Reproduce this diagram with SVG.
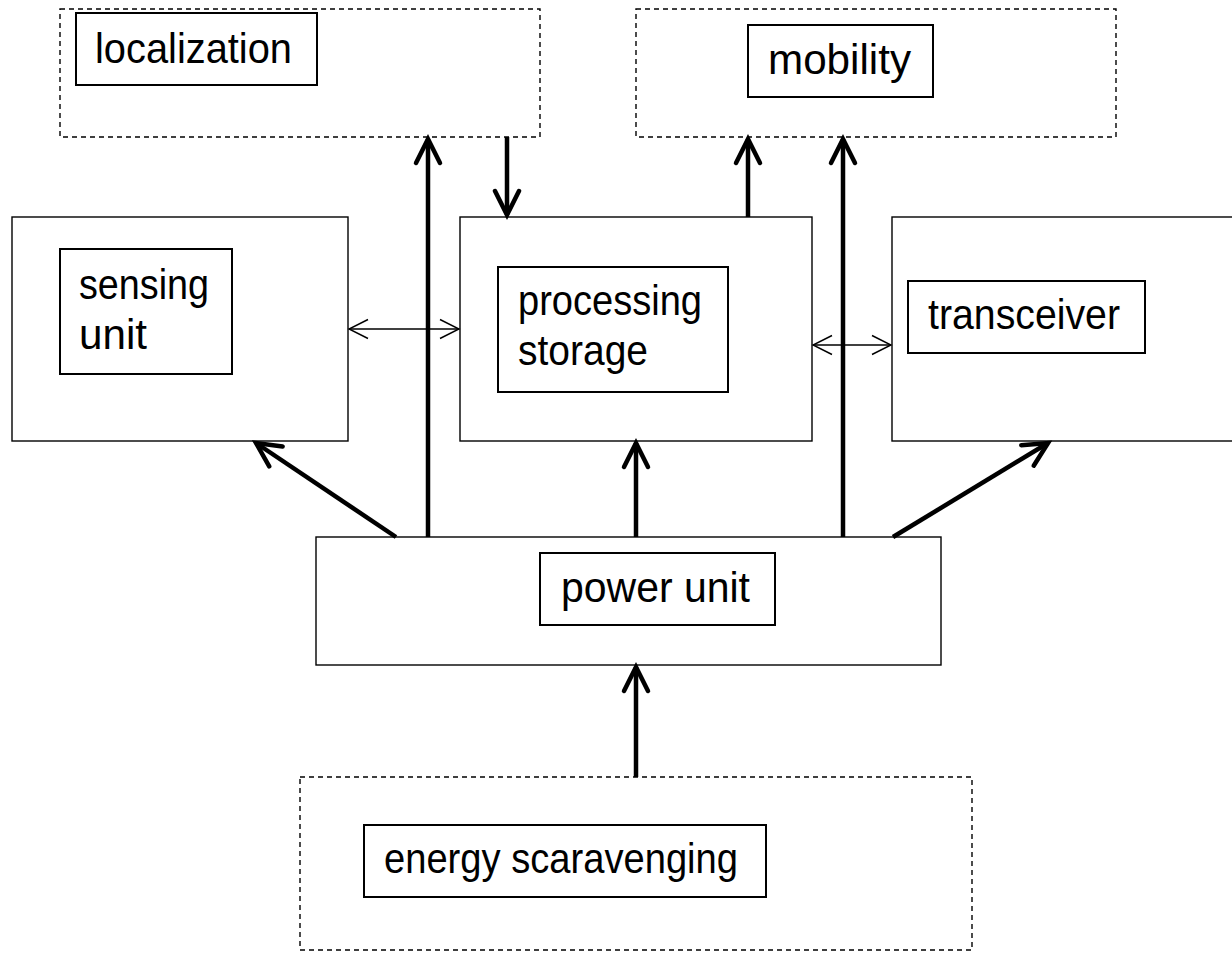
<svg xmlns="http://www.w3.org/2000/svg" width="1232" height="953" viewBox="0 0 1232 953">
  <style>
    .outer { fill: #ffffff; stroke: #000000; stroke-width: 1.4; }
    .dashed { fill: #ffffff; stroke: #000000; stroke-width: 1.4; stroke-dasharray: 5 4; }
    .inner { fill: #ffffff; stroke: #000000; stroke-width: 2; }
    .lbl { font-family: "Liberation Sans", Arial, sans-serif; font-size: 43px; fill: #000000; }
    .thick { stroke: #000000; stroke-width: 4.5; fill: none; marker-end: url(#bigArrow); }
    .thin { stroke: #000000; stroke-width: 1.4; fill: none; marker-start: url(#smallArrowStart); marker-end: url(#smallArrow); }
  </style>
  <defs>
    <marker id="bigArrow" markerUnits="userSpaceOnUse" markerWidth="40" markerHeight="40" viewBox="-30 -20 40 40" refX="0" refY="0" orient="auto">
      <path d="M -24 -12 L 0 0 L -24 12" fill="none" stroke="#000000" stroke-width="4.5" stroke-linecap="round" stroke-linejoin="miter"/>
    </marker>
    <marker id="smallArrow" markerUnits="userSpaceOnUse" markerWidth="30" markerHeight="30" viewBox="-25 -15 30 30" refX="0" refY="0" orient="auto">
      <path d="M -19 -9.5 L 0 0 L -19 9.5" fill="none" stroke="#000000" stroke-width="1.4"/>
    </marker>
    <marker id="smallArrowStart" markerUnits="userSpaceOnUse" markerWidth="30" markerHeight="30" viewBox="-5 -15 30 30" refX="0" refY="0" orient="auto">
      <path d="M 19 -9.5 L 0 0 L 19 9.5" fill="none" stroke="#000000" stroke-width="1.4"/>
    </marker>
  </defs>
  <rect width="1232" height="953" fill="#ffffff"/>

  <g id="localization">
    <rect class="dashed" x="60" y="9" width="480" height="128"/>
    <rect class="inner" x="76" y="13" width="241" height="72"/>
    <text class="lbl" x="95" y="63" textLength="197" lengthAdjust="spacingAndGlyphs">localization</text>
  </g>

  <g id="mobility">
    <rect class="dashed" x="636" y="9" width="480" height="128"/>
    <rect class="inner" x="748" y="25" width="185" height="72"/>
    <text class="lbl" x="768" y="74" textLength="143" lengthAdjust="spacingAndGlyphs">mobility</text>
  </g>

  <g id="sensing">
    <rect class="outer" x="12" y="217" width="336" height="224"/>
    <rect class="inner" x="60" y="249" width="172" height="125"/>
    <text class="lbl" x="79" y="299" textLength="130" lengthAdjust="spacingAndGlyphs">sensing</text>
    <text class="lbl" x="79" y="349" textLength="68" lengthAdjust="spacingAndGlyphs">unit</text>
  </g>

  <g id="processing">
    <rect class="outer" x="460" y="217" width="352" height="224"/>
    <rect class="inner" x="498" y="267" width="230" height="125"/>
    <text class="lbl" x="518" y="315" textLength="184" lengthAdjust="spacingAndGlyphs">processing</text>
    <text class="lbl" x="518" y="365" textLength="130" lengthAdjust="spacingAndGlyphs">storage</text>
  </g>

  <g id="transceiver">
    <rect class="outer" x="892" y="217" width="350" height="224"/>
    <rect class="inner" x="908" y="281" width="237" height="72"/>
    <text class="lbl" x="928" y="329" textLength="192" lengthAdjust="spacingAndGlyphs">transceiver</text>
  </g>

  <g id="power">
    <rect class="outer" x="316" y="537" width="625" height="128"/>
    <rect class="inner" x="540" y="553" width="235" height="72"/>
    <text class="lbl" x="561" y="602" textLength="189" lengthAdjust="spacingAndGlyphs">power unit</text>
  </g>

  <g id="energy">
    <rect class="dashed" x="300" y="777" width="672" height="173"/>
    <rect class="inner" x="364" y="825" width="402" height="72"/>
    <text class="lbl" x="384" y="873" textLength="354" lengthAdjust="spacingAndGlyphs">energy scaravenging</text>
  </g>

  <g id="connectors">
    <line class="thick" x1="428" y1="537" x2="428" y2="139"/>
    <line class="thick" x1="507" y1="137" x2="507" y2="215"/>
    <line class="thick" x1="748" y1="217" x2="748" y2="139"/>
    <line class="thick" x1="843" y1="537" x2="843" y2="139"/>
    <line class="thick" x1="636" y1="537" x2="636" y2="443"/>
    <line class="thick" x1="396" y1="537" x2="256" y2="443"/>
    <line class="thick" x1="893" y1="537" x2="1048" y2="443"/>
    <line class="thick" x1="636" y1="777" x2="636" y2="667"/>
    <line class="thin" x1="349" y1="329" x2="459" y2="329"/>
    <line class="thin" x1="813" y1="345" x2="891" y2="345"/>
  </g>
</svg>
